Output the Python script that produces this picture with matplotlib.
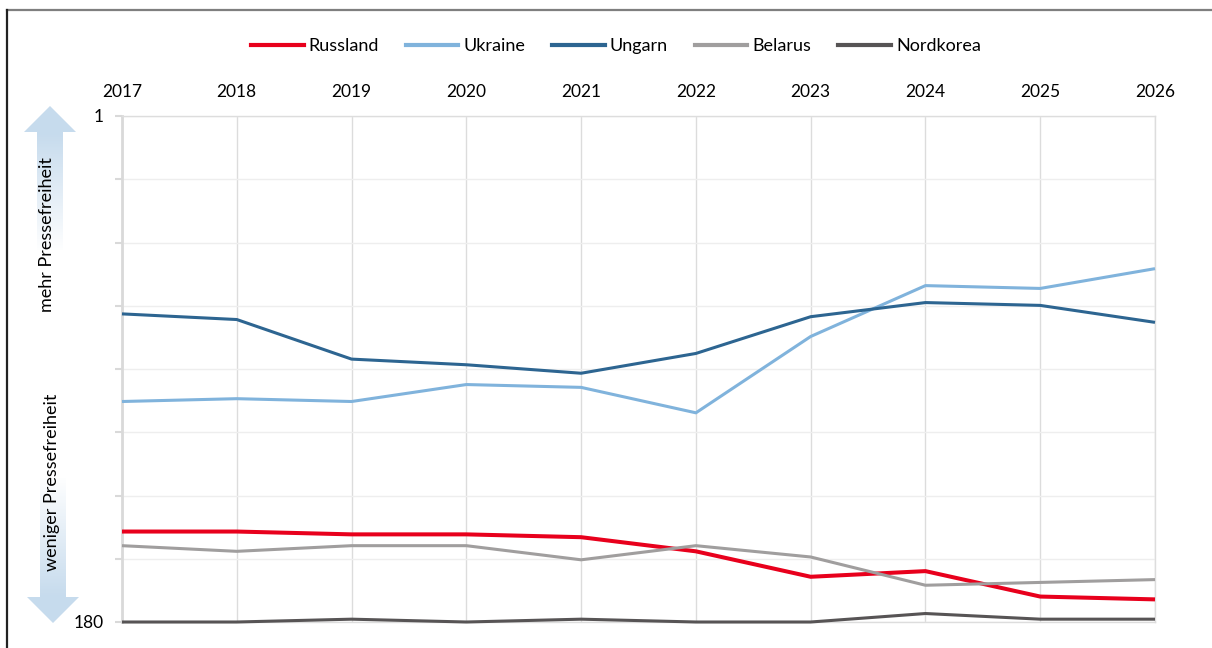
import numpy as np
import matplotlib.pyplot as plt
from matplotlib.patches import Polygon
from matplotlib.lines import Line2D

plt.rcParams['font.family'] = ['Lato', 'DejaVu Sans']

years = [2017, 2018, 2019, 2020, 2021, 2022, 2023, 2024, 2025, 2026]
russland = [148, 148, 149, 149, 150, 155, 164, 162, 171, 172]
ukraine = [102, 101, 102, 96, 97, 106, 79, 61, 62, 55]
ungarn = [71, 73, 87, 89, 92, 85, 72, 67, 68, 74]
belarus = [153, 155, 153, 153, 158, 153, 157, 167, 166, 165]
nordkorea = [180, 180, 179, 180, 179, 180, 180, 177, 179, 179]

names = ["Russland", "Ukraine", "Ungarn", "Belarus", "Nordkorea"]
series = [russland, ukraine, ungarn, belarus, nordkorea]
colors = ["#e8001c", "#80b3dc", "#2d6591", "#a09e9e", "#575455"]
widths = [2.9, 2.2, 2.2, 2.2, 2.2]

W, H = 1212, 648
fig = plt.figure(figsize=(W / 100, H / 100), dpi=100)

# main plot area in pixels
left, right, top, bottom = 122, 1155, 116, 622
ax = fig.add_axes([left / W, 1 - bottom / H, (right - left) / W, (bottom - top) / H])

for name, vals, c, lw in zip(names, series, colors, widths):
    ax.plot(years, vals, color=c, lw=lw, label=name, solid_capstyle='butt', zorder=3, clip_on=False)

ax.set_xlim(2017, 2026)
ax.set_ylim(180, 1)
ax.xaxis.tick_top()
ax.set_xticks(years)
ax.set_xticklabels([str(y) for y in years], fontsize=12.5)
ax.tick_params(axis='x', length=0, pad=11.5)

yt = np.linspace(1, 180, 9)
ax.set_yticks(yt)
ax.set_yticklabels(['1'] + [''] * 7 + ['180'], fontsize=12.5)
ax.tick_params(axis='y', length=5, width=1.5, color='#d9d9d9', pad=8)

ax.grid(axis='x', color='#dcdcdc', lw=1)
ax.grid(axis='y', color='#eeeeee', lw=1)
ax.set_axisbelow(True)
ax.spines['left'].set_color('#d9d9d9')
ax.spines['left'].set_linewidth(2)
for s in ['right', 'top', 'bottom']:
    ax.spines[s].set_color('#dddddd')
    ax.spines[s].set_linewidth(1)

# legend
handles = [Line2D([0], [0], color=c, lw=3) for c in colors]
fig.legend(handles, names, loc='center', bbox_to_anchor=(616 / W, 1 - 46 / H), ncol=5,
           frameon=False, fontsize=13, handlelength=2.9, handletextpad=0.28, columnspacing=1.5)

# overlay for frame and arrows, pixel coordinates
ov = fig.add_axes([0, 0, 1, 1], zorder=-1)
ov.axis('off')


def grad_arrow(poly, ytop, ybot, y_solid, y_white):
    patch = Polygon(poly, closed=True, facecolor='none', edgecolor='none')
    ov.add_patch(patch)
    n = 300
    ys = np.linspace(ytop, ybot, n)
    t = np.clip((ys - y_solid) / (y_white - y_solid), 0, 1)
    base = np.array([0.78, 0.86, 0.93])
    img = (1 - t)[:, None] * base + t[:, None] * np.ones(3)
    img = img.reshape(n, 1, 3)
    im = ov.imshow(img, extent=[0, 100, ybot, ytop], origin='upper', aspect='auto',
                   interpolation='bilinear', zorder=1)
    im.set_clip_path(patch)


up_poly = [(50, 106), (24, 132), (37, 132), (37, 250), (63, 250), (63, 132), (76, 132)]
grad_arrow(up_poly, 106, 250, 135, 252)
down_poly = [(53, 623), (27, 597), (40, 597), (40, 478), (66, 478), (66, 597), (79, 597)]
grad_arrow(down_poly, 478, 623, 595, 476)

ov.plot([7, W], [10, 10], color='#7f7f7f', lw=1.6)
ov.plot([7, 7], [10, H], color='#222222', lw=1.6)
ov.text(47, 235, "mehr Pressefreiheit", rotation=90, ha='center', va='center', fontsize=13, zorder=2)
ov.text(52, 482, "weniger Pressefreiheit", rotation=90, ha='center', va='center', fontsize=13, zorder=2)
ov.set_xlim(0, W)
ov.set_ylim(H, 0)

fig.savefig("out.png", dpi=100)
